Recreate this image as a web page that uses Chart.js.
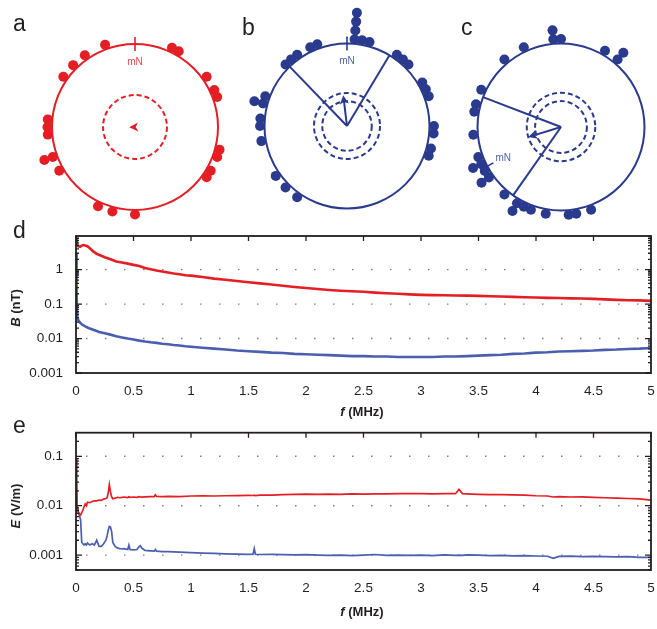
<!DOCTYPE html>
<html>
<head>
<meta charset="utf-8">
<script src="https://cdn.jsdelivr.net/npm/chart.js@4.4.1/dist/chart.umd.min.js"></script>
<style>
  body { margin:0; width:657px; height:629px; overflow:hidden; background:#fff; position:relative;
         font-family:"Liberation Sans", Arial, sans-serif; color:#231f20; }
  .box { position:absolute; }
  .tag { position:absolute; font-size:23px; line-height:23px; }
  .ttl { position:absolute; font-weight:bold; font-size:13px; white-space:nowrap; transform:translate(-50%,-50%); }
  .ttl.v { transform:translate(-50%,-50%) rotate(-90deg); }
</style>
</head>
<body>
<div class="box" style="left:14.5px;top:7px;width:240px;height:240px"><canvas id="pa"></canvas></div>
<div class="box" style="left:227px;top:6px;width:240px;height:240px"><canvas id="pb"></canvas></div>
<div class="box" style="left:441px;top:7px;width:240px;height:240px"><canvas id="pc"></canvas></div>
<div class="box" style="left:0;top:222px;width:657px;height:200px"><canvas id="pd"></canvas></div>
<div class="box" style="left:0;top:418px;width:657px;height:211px"><canvas id="pe"></canvas></div>

<div class="tag" style="left:13px;top:12px">a</div>
<div class="tag" style="left:242px;top:15.5px">b</div>
<div class="tag" style="left:461px;top:15.5px">c</div>
<div class="tag" style="left:13px;top:219px">d</div>
<div class="tag" style="left:13px;top:413.5px">e</div>

<div class="ttl v" style="left:15px;top:308px"><i>B</i> (nT)</div>
<div class="ttl" style="left:362px;top:411px"><i>f</i> (MHz)</div>
<div class="ttl v" style="left:15px;top:506px"><i>E</i> (V/m)</div>
<div class="ttl" style="left:362px;top:611px"><i>f</i> (MHz)</div>

<script>
// panels a-c: headings in degrees clockwise from top, a repeated angle stacks outward
const anglesA = [340, 25, 30, 325, 315, 305, 55, 65, 70, 275, 270, 265, 105, 110,
                 250, 250, 120, 125, 240, 205, 195, 180];
const anglesB = [5, 5, 5, 5, 10, 15, 335, 340, 325, 320, 315, 35, 40, 45, 60, 65, 70,
                 90, 95, 105, 110, 290, 285, 285, 275, 270, 260, 235, 225, 215];
const anglesC = [355, 355, 0, 335, 320, 30, 40, 40, 295, 285, 280, 265, 250, 245, 245,
                 240, 235, 235, 220, 210, 210, 205, 200, 190, 175, 170, 160];
const meanDir = [268, 353, 253];
const meanLen = [0.07, 0.376, 0.41];
const ringsA = [0.385];
const ringsB = [0.30, 0.40];
const ringsC = [0.31, 0.41];
const arcB = [316, 31];
const arcC = [215, 291];
const northDir = [0, 0, 242];

// panel d: magnetic field spectrum
const freqD = [0, 0.005, 0.01, 0.02, 0.035, 0.05, 0.065, 0.08, 0.1, 0.12,
               0.15, 0.18, 0.2, 0.25, 0.3, 0.35, 0.4, 0.45, 0.5, 0.55,
               0.6, 0.65, 0.7, 0.75, 0.8, 0.85, 0.9, 0.95, 1.0, 1.1,
               1.2, 1.3, 1.4, 1.5, 1.6, 1.7, 1.8, 1.9, 2.0, 2.1,
               2.2, 2.3, 2.4, 2.5, 2.6, 2.7, 2.8, 2.9, 3.0, 3.1,
               3.2, 3.3, 3.4, 3.5, 3.6, 3.7, 3.8, 3.9, 4.0, 4.1,
               4.2, 4.3, 4.4, 4.5, 4.6, 4.7, 4.8, 4.9, 5.0];
const bRed = [8.5, 6.5, 5.5, 4.8, 4.6, 5.0, 5.2, 5.0, 4.8, 4.2,
              3.4, 2.9, 2.7, 2.3, 2.0, 1.72, 1.62, 1.5, 1.38, 1.27,
              1.12, 1.03, 0.94, 0.88, 0.83, 0.77, 0.74, 0.69, 0.67, 0.61,
              0.55, 0.51, 0.47, 0.43, 0.40, 0.37, 0.34, 0.315, 0.295, 0.275,
              0.258, 0.245, 0.236, 0.228, 0.216, 0.207, 0.200, 0.192, 0.186, 0.183,
              0.180, 0.178, 0.176, 0.174, 0.170, 0.166, 0.162, 0.158, 0.155, 0.152,
              0.150, 0.147, 0.145, 0.142, 0.137, 0.133, 0.130, 0.128, 0.124];
const bBlue = [3.0, 0.2, 0.045, 0.034, 0.029, 0.026, 0.024, 0.0225, 0.021, 0.0195,
               0.018, 0.0165, 0.0155, 0.0142, 0.013, 0.0117, 0.0108, 0.0100, 0.0094, 0.0087,
               0.0082, 0.0078, 0.0075, 0.0071, 0.0068, 0.0065, 0.0063, 0.0060, 0.0058, 0.0054,
               0.0051, 0.0048, 0.0045, 0.0043, 0.0041, 0.0039, 0.0038, 0.0036, 0.0035, 0.0034,
               0.0033, 0.0032, 0.0031, 0.0031, 0.0030, 0.0030, 0.0029, 0.0029, 0.0029, 0.0029,
               0.0030, 0.0030, 0.0031, 0.0032, 0.0033, 0.0034, 0.0036, 0.0037, 0.0039, 0.0040,
               0.0042, 0.0043, 0.0044, 0.0045, 0.0047, 0.0048, 0.0050, 0.0051, 0.0053];

// panel e: electric field spectrum
const freqE = [0, 0.005, 0.01, 0.02, 0.03, 0.04, 0.05, 0.06, 0.07, 0.08,
               0.09, 0.1, 0.12, 0.14, 0.16, 0.18, 0.2, 0.22, 0.24, 0.26,
               0.27, 0.28, 0.29, 0.3, 0.31, 0.32, 0.34, 0.36, 0.38, 0.4,
               0.42, 0.45, 0.46, 0.47, 0.5, 0.53, 0.55, 0.56, 0.57, 0.6,
               0.65, 0.68, 0.69, 0.7, 0.75, 0.8, 0.9, 1.0, 1.1, 1.2,
               1.3, 1.4, 1.5, 1.54, 1.55, 1.56, 1.6, 1.7, 1.8, 1.9,
               2.0, 2.1, 2.2, 2.3, 2.4, 2.5, 2.6, 2.7, 2.8, 2.9,
               3.0, 3.1, 3.2, 3.3, 3.33, 3.36, 3.4, 3.5, 3.6, 3.7,
               3.8, 3.9, 4.0, 4.1, 4.15, 4.2, 4.3, 4.4, 4.5, 4.6,
               4.7, 4.8, 4.9, 5.0];
const eRed = [0.09, 0.03, 0.0095, 0.0075, 0.0068, 0.0065, 0.0072, 0.0082, 0.0095, 0.0108,
              0.0100, 0.0118, 0.0115, 0.0122, 0.0126, 0.0125, 0.0130, 0.0128, 0.0136, 0.0140,
              0.0145, 0.0180, 0.0265, 0.0190, 0.0150, 0.0138, 0.0142, 0.0148, 0.0145, 0.0147,
              0.0150, 0.0146, 0.0152, 0.0148, 0.0150, 0.0147, 0.0152, 0.0150, 0.0149, 0.0151,
              0.0153, 0.0152, 0.0166, 0.0154, 0.0152, 0.0154, 0.0153, 0.0157, 0.0158, 0.0157,
              0.0159, 0.0160, 0.0162, 0.0161, 0.0163, 0.0160, 0.0163, 0.0164, 0.0168, 0.0170,
              0.0172, 0.0170, 0.0172, 0.0170, 0.0173, 0.0172, 0.0174, 0.0173, 0.0176, 0.0175,
              0.0175, 0.0174, 0.0176, 0.0175, 0.0215, 0.0176, 0.0174, 0.0170, 0.0168, 0.0168,
              0.0165, 0.0163, 0.0159, 0.0157, 0.0150, 0.0153, 0.0150, 0.0151, 0.0148, 0.0145,
              0.0142, 0.0140, 0.0137, 0.0130];
const eBlue = [0.09, 0.03, 0.0095, 0.0075, 0.0062, 0.0052, 0.0018, 0.0017, 0.0016, 0.0017,
               0.0016, 0.00175, 0.0016, 0.0017, 0.0016, 0.0020, 0.0015, 0.0015, 0.0017, 0.0020,
               0.0024, 0.0032, 0.0038, 0.0037, 0.0030, 0.0018, 0.0015, 0.0014, 0.00135, 0.00133,
               0.00135, 0.0013, 0.0016, 0.0013, 0.00128, 0.0013, 0.0015, 0.00155, 0.0014, 0.00125,
               0.00122, 0.0012, 0.0013, 0.0012, 0.00118, 0.00118, 0.00115, 0.00112, 0.00110, 0.00108,
               0.00106, 0.00105, 0.00104, 0.00105, 0.00135, 0.00104, 0.00103, 0.00104, 0.00102, 0.00101,
               0.00102, 0.00100, 0.00099, 0.00100, 0.00098, 0.00100, 0.00103, 0.00099, 0.00100, 0.00099,
               0.00100, 0.00098, 0.00101, 0.00099, 0.00100, 0.00099, 0.00101, 0.00100, 0.00098, 0.00099,
               0.00097, 0.00098, 0.00096, 0.00095, 0.00086, 0.00094, 0.00095, 0.00093, 0.00094, 0.00093,
               0.00092, 0.00093, 0.00090, 0.00090];

const RED = '#e31e24';
const NAVY = '#2a3a8d';
const LINE_BLUE = '#4b5eaf';
const INK = '#231f20';

Chart.defaults.font.family = '"Liberation Sans", Arial, sans-serif';
Chart.defaults.color = INK;

// circles, confidence wedge, mean vector and mN mark, drawn under the dots
const compass = {
  id: 'compass',
  beforeDatasetsDraw(chart, args, o) {
    const { ctx, scales: { x, y } } = chart;
    const cx = x.getPixelForValue(0), cy = y.getPixelForValue(0);
    const unit = x.getPixelForValue(1) - cx;
    const pt = (deg, r) => {
      const t = deg * Math.PI / 180;
      return [cx + r * unit * Math.sin(t), cy - r * unit * Math.cos(t)];
    };
    ctx.save();
    ctx.strokeStyle = o.color;
    ctx.fillStyle = o.color;
    ctx.lineWidth = 2;
    ctx.beginPath();
    ctx.arc(cx, cy, unit, 0, Math.PI * 2);
    ctx.stroke();

    ctx.setLineDash([5, 3]);
    o.rings.forEach(r => {
      ctx.beginPath();
      ctx.arc(cx, cy, r * unit, 0, Math.PI * 2);
      ctx.stroke();
    });
    ctx.setLineDash([]);

    if (o.arc) {
      o.arc.forEach(a => {
        const p = pt(a, 1);
        ctx.beginPath();
        ctx.moveTo(cx, cy);
        ctx.lineTo(p[0], p[1]);
        ctx.stroke();
      });
    }

    // mean vector
    const tip = pt(o.dir, o.len);
    const t = o.dir * Math.PI / 180, ux = Math.sin(t), uy = -Math.cos(t);
    ctx.beginPath();
    ctx.moveTo(cx, cy);
    ctx.lineTo(tip[0] - ux * 4, tip[1] - uy * 4);
    ctx.stroke();
    ctx.beginPath();
    ctx.moveTo(tip[0], tip[1]);
    ctx.lineTo(tip[0] - ux * 9 - uy * 4.5, tip[1] - uy * 9 + ux * 4.5);
    ctx.lineTo(tip[0] - ux * 6.5, tip[1] - uy * 6.5);
    ctx.lineTo(tip[0] - ux * 9 + uy * 4.5, tip[1] - uy * 9 - ux * 4.5);
    ctx.closePath();
    ctx.fill();

    // magnetic north mark
    const n1 = pt(o.north, 1 - 7 / unit), n2 = pt(o.north, 1 + 7 / unit);
    ctx.lineWidth = 1.6;
    ctx.beginPath();
    ctx.moveTo(n1[0], n1[1]);
    ctx.lineTo(n2[0], n2[1]);
    ctx.stroke();
    const lp = pt(o.north, 1 - 18 / unit);
    ctx.fillStyle = o.label;
    ctx.font = '10px "Liberation Sans", Arial, sans-serif';
    ctx.textAlign = 'center';
    ctx.textBaseline = 'middle';
    ctx.fillText('mN', lp[0], lp[1]);
    ctx.restore();
  }
};

function stack(angles) {
  const seen = {};
  return angles.map(a => {
    const lvl = seen[a] || 0;
    seen[a] = lvl + 1;
    const r = 1.054 + lvl * 0.108, t = a * Math.PI / 180;
    return { x: r * Math.sin(t), y: r * Math.cos(t) };
  });
}

function polar(id, angles, color, radiusPx, deco) {
  const R = 120 / radiusPx;
  return new Chart(document.getElementById(id), {
    type: 'scatter',
    data: { datasets: [{ data: stack(angles), backgroundColor: color, borderWidth: 0,
                         pointRadius: 5, pointHoverRadius: 5, clip: false }] },
    options: {
      responsive: true, maintainAspectRatio: false, animation: false, events: [],
      layout: { padding: 0, autoPadding: false },
      scales: { x: { display: false, min: -R, max: R }, y: { display: false, min: -R, max: R } },
      plugins: { legend: { display: false }, tooltip: { enabled: false },
                 compass: Object.assign({ color: color }, deco) }
    },
    plugins: [compass]
  });
}

polar('pa', anglesA, RED, 83, { rings: ringsA, dir: meanDir[0], len: meanLen[0], north: northDir[0], label: '#e5484f' });
polar('pb', anglesB, NAVY, 82.5, { rings: ringsB, arc: arcB, dir: meanDir[1], len: meanLen[1], north: northDir[1], label: '#5062aa' });
polar('pc', anglesC, NAVY, 83.5, { rings: ringsC, arc: arcC, dir: meanDir[2], len: meanLen[2], north: northDir[2], label: '#5062aa' });

// box, dotted decade lines and inward ticks like the original plots
const frame = {
  id: 'frame',
  beforeDatasetsDraw(chart) {
    const { ctx, chartArea: { left, right, top, bottom }, scales: { y } } = chart;
    ctx.save();
    ctx.strokeStyle = '#808080';
    ctx.lineWidth = 1.4;
    ctx.setLineDash([1.5, 17.5]);
    for (let e = -4; e <= 1; e++) {
      const py = y.getPixelForValue(Math.pow(10, e));
      if (py > top + 2 && py < bottom - 2) {
        ctx.beginPath();
        ctx.moveTo(left + 10, py);
        ctx.lineTo(right - 4, py);
        ctx.stroke();
      }
    }
    ctx.restore();
  },
  afterDatasetsDraw(chart) {
    const { ctx, chartArea: { left, right, top, bottom }, scales: { x, y } } = chart;
    ctx.save();
    ctx.strokeStyle = INK;
    ctx.lineWidth = 1.3;
    ctx.beginPath();
    for (let e = -4; e <= 1; e++) {
      for (let m = 1; m <= 9; m++) {
        const v = m * Math.pow(10, e);
        if (v < y.min || v > y.max) continue;
        const py = y.getPixelForValue(v), len = m === 1 ? 6 : 3;
        ctx.moveTo(left, py); ctx.lineTo(left + len, py);
        ctx.moveTo(right, py); ctx.lineTo(right - len, py);
      }
    }
    x.ticks.forEach(t => {
      const px = x.getPixelForValue(t.value);
      ctx.moveTo(px, top); ctx.lineTo(px, top + 5);
    });
    ctx.stroke();
    ctx.lineWidth = 1.8;
    ctx.strokeRect(left, top, right - left, bottom - top);
    ctx.restore();
  }
};

function spectrum(id, xs, red, blue, yMin, yMax, padTop, xAxisH, width) {
  const pts = vals => xs.map((f, i) => ({ x: f, y: vals[i] }));
  return new Chart(document.getElementById(id), {
    type: 'line',
    data: { datasets: [
      { data: pts(red), borderColor: RED, borderWidth: width, pointRadius: 0, tension: 0 },
      { data: pts(blue), borderColor: LINE_BLUE, borderWidth: width, pointRadius: 0, tension: 0 }
    ] },
    options: {
      responsive: true, maintainAspectRatio: false, animation: false, events: [],
      layout: { padding: { top: padTop, right: 6, left: 0, bottom: 0 }, autoPadding: false },
      scales: {
        x: {
          type: 'linear', min: 0, max: 5,
          grid: { display: false, drawTicks: false }, border: { display: false },
          ticks: { stepSize: 0.5, padding: 10, font: { size: 13.5 }, maxRotation: 0,
                   callback: v => String(+v.toFixed(2)) },
          afterFit: s => { s.height = xAxisH; s.paddingLeft = 0; s.paddingRight = 0; }
        },
        y: {
          type: 'logarithmic', min: yMin, max: yMax,
          grid: { display: false, drawTicks: false }, border: { display: false },
          ticks: {
            autoSkip: false, padding: 13, font: { size: 13.5 },
            callback: v => {
              const l = Math.log10(v);
              return Math.abs(l - Math.round(l)) < 1e-9 ? String(+v.toPrecision(1)) : '';
            }
          },
          afterFit: s => { s.width = 76; s.paddingTop = 0; s.paddingBottom = 0; }
        }
      },
      plugins: { legend: { display: false }, tooltip: { enabled: false } }
    },
    plugins: [frame]
  });
}

spectrum('pd', freqD, bRed, bBlue, 0.001, 9.5, 14, 49, 2.6);
spectrum('pe', freqE, eRed, eBlue, 0.0005, 0.3, 14.7, 59, 1.7);
</script>
</body>
</html>
